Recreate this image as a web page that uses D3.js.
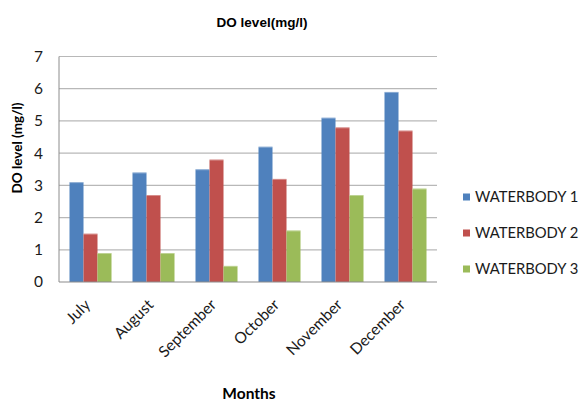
<!DOCTYPE html>
<html>
<head>
<meta charset="utf-8">
<script src="https://cdn.jsdelivr.net/npm/d3@7"></script>
<style>
  html, body { margin: 0; padding: 0; background: #ffffff; }
  svg { display: block; }
</style>
</head>
<body>
<svg id="chart" width="580" height="405"></svg>
<script>
// Dissolved oxygen readings per month for three water bodies
const months = ["July", "August", "September", "October", "November", "December"];
const seriesNames = ["WATERBODY 1", "WATERBODY 2", "WATERBODY 3"];
const waterbody1 = [3.1, 3.4, 3.5, 4.2, 5.1, 5.9];
const waterbody2 = [1.5, 2.7, 3.8, 3.2, 4.8, 4.7];
const waterbody3 = [0.9, 0.9, 0.5, 1.6, 2.7, 2.9];
const yTicks = [0, 1, 2, 3, 4, 5, 6, 7];
const colors = ["#4F81BD", "#C0504D", "#9BBB59"];

const seriesValues = [waterbody1, waterbody2, waterbody3];
const rows = months.map((m, i) => ({
  month: m,
  values: seriesNames.map((s, k) => ({ key: s, value: seriesValues[k][i], color: colors[k] }))
}));

const svg = d3.select("#chart");
const plot = { left: 59, right: 437, top: 56.5, bottom: 282 };
const bodyFont = "Lato, 'Open Sans', sans-serif";

const x0 = d3.scaleBand()
  .domain(months)
  .range([plot.left, plot.right])
  .paddingInner(1 / 3)
  .paddingOuter(1 / 6);

const x1 = d3.scaleBand()
  .domain(seriesNames)
  .range([0, x0.bandwidth()]);

const y = d3.scaleLinear()
  .domain([0, 7])
  .range([plot.bottom, plot.top]);

// Horizontal gridlines
svg.append("g")
  .selectAll("line")
  .data(yTicks.filter(t => t > 0))
  .join("line")
  .attr("x1", plot.left)
  .attr("x2", plot.right)
  .attr("y1", d => y(d))
  .attr("y2", d => y(d))
  .attr("stroke", "#b8b8b8")
  .attr("stroke-width", 1.2);

// Bars
const groups = svg.append("g")
  .selectAll("g")
  .data(rows)
  .join("g")
  .attr("transform", d => `translate(${x0(d.month)},0)`);

groups.selectAll("rect")
  .data(d => d.values)
  .join("rect")
  .attr("x", d => x1(d.key))
  .attr("y", d => y(d.value))
  .attr("width", x1.bandwidth())
  .attr("height", d => y(0) - y(d.value))
  .attr("fill", d => d.color);

// Soft highlight along each bar's top edge
groups.selectAll("line.edge")
  .data(d => d.values)
  .join("line")
  .attr("class", "edge")
  .attr("x1", d => x1(d.key))
  .attr("x2", d => x1(d.key) + x1.bandwidth())
  .attr("y1", d => y(d.value) + 0.5)
  .attr("y2", d => y(d.value) + 0.5)
  .attr("stroke", "#ffffff")
  .attr("stroke-opacity", 0.35);

// Axes lines
svg.append("line")
  .attr("x1", plot.left).attr("x2", plot.left)
  .attr("y1", plot.top).attr("y2", plot.bottom)
  .attr("stroke", "#8c8c8c").attr("stroke-width", 1);
svg.append("line")
  .attr("x1", plot.left).attr("x2", plot.right)
  .attr("y1", plot.bottom).attr("y2", plot.bottom)
  .attr("stroke", "#8c8c8c").attr("stroke-width", 1.2);

// Y axis tick labels
const yAxis = d3.axisLeft(y).tickValues(yTicks).tickSize(0).tickPadding(16).tickFormat(d3.format("d"));
const gy = svg.append("g")
  .attr("transform", `translate(${plot.left},0)`)
  .call(yAxis);
gy.select(".domain").remove();
gy.selectAll("text")
  .attr("font-family", bodyFont)
  .attr("font-size", "15.5px")
  .attr("fill", "#1a1a1a");

// X axis month labels, slanted
const xAxis = d3.axisBottom(x0).tickSize(0);
const gx = svg.append("g")
  .attr("transform", `translate(0,${plot.bottom})`)
  .call(xAxis);
gx.select(".domain").remove();
gx.selectAll("text")
  .attr("font-family", bodyFont)
  .attr("font-size", "15.5px")
  .attr("fill", "#1a1a1a")
  .attr("text-anchor", "end")
  .attr("dy", "0.35em")
  .attr("y", 0)
  .attr("transform", "translate(-3,20) rotate(-45)");

// Chart title
svg.append("text")
  .attr("x", 262)
  .attr("y", 27)
  .attr("text-anchor", "middle")
  .attr("font-family", "'Liberation Sans', Arial, sans-serif")
  .attr("font-weight", "bold")
  .attr("font-size", "13.5px")
  .attr("fill", "#000")
  .text("DO level(mg/l)");

// Axis titles
svg.append("text")
  .attr("transform", "translate(22,148) rotate(-90)")
  .attr("text-anchor", "middle")
  .attr("font-family", bodyFont)
  .attr("font-weight", "bold")
  .attr("font-size", "13.5px")
  .attr("fill", "#000")
  .text("DO level (mg/l)");

svg.append("text")
  .attr("x", 249)
  .attr("y", 399)
  .attr("text-anchor", "middle")
  .attr("font-family", bodyFont)
  .attr("font-weight", "bold")
  .attr("font-size", "15.5px")
  .attr("fill", "#000")
  .text("Months");

// Legend
const legend = svg.append("g")
  .selectAll("g")
  .data(seriesNames)
  .join("g")
  .attr("transform", (d, i) => `translate(463,${197 + i * 36})`);

legend.append("rect")
  .attr("x", 0)
  .attr("y", -3.5)
  .attr("width", 7)
  .attr("height", 7)
  .attr("fill", (d, i) => colors[i]);

legend.append("text")
  .attr("x", 12)
  .attr("y", 0)
  .attr("dy", "0.35em")
  .attr("font-family", bodyFont)
  .attr("font-size", "14.8px")
  .attr("fill", "#1a1a1a")
  .text(d => d);
</script>
</body>
</html>
